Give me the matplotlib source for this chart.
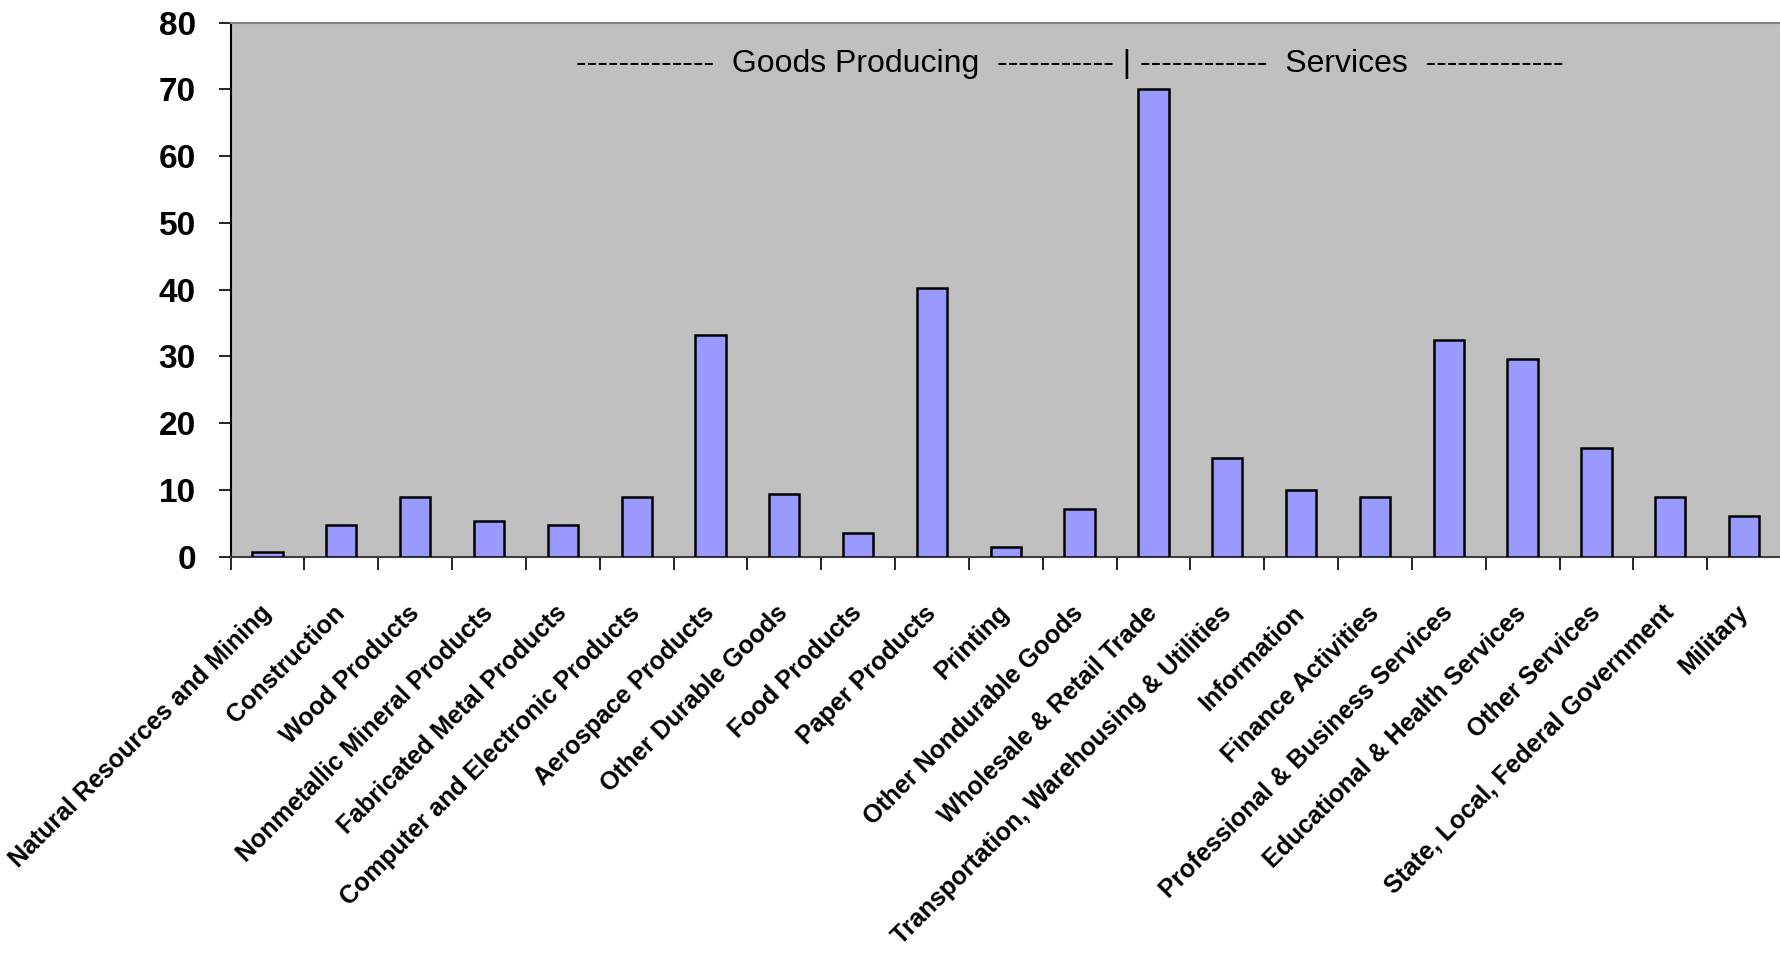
import matplotlib
matplotlib.use("Agg")
import matplotlib.pyplot as plt
import numpy as np

categories = [
    "Natural Resources and Mining", "Construction", "Wood Products",
    "Nonmetallic Mineral Products", "Fabricated Metal Products",
    "Computer and Electronic Products", "Aerospace Products",
    "Other Durable Goods", "Food Products", "Paper Products", "Printing",
    "Other Nondurable Goods", "Wholesale & Retail Trade",
    "Transportation, Warehousing & Utilities", "Information",
    "Finance Activities", "Professional & Business Services",
    "Educational & Health Services", "Other Services",
    "State, Local, Federal Government", "Military",
]
values = [0.7, 4.8, 9.0, 5.4, 4.8, 9.0, 33.2, 9.4, 3.6, 40.2, 1.4,
          7.1, 70.1, 14.8, 10.0, 9.0, 32.5, 29.6, 16.2, 9.0, 6.1]
yticks = [0, 10, 20, 30, 40, 50, 60, 70, 80]

arial = ["Liberation Sans", "DejaVu Sans"]

W, H = 1781, 964
fig = plt.figure(figsize=(W / 100, H / 100), dpi=100)
left, top, bottom = 230.6, 22.7, 556.6
ax = fig.add_axes([left / W, 1 - bottom / H, (W - left) / W, (bottom - top) / H])
ax.set_facecolor("#C0C0C0")

x = np.arange(len(categories))
ax.bar(x, values, width=0.41, color="#9999FF", edgecolor="black", linewidth=1.8, zorder=3)

ax.set_xlim(-0.5, len(categories) - 0.5)
ax.set_ylim(0, 80)
ax.set_yticks(yticks)
ax.set_yticklabels([str(v) for v in yticks], family=arial, fontweight="bold", fontsize=24)
ax.tick_params(axis="y", direction="out", length=9, width=1.2, pad=16)

# ticks at category boundaries, labels at centers
ax.set_xticks(np.arange(len(categories) + 1) - 0.5)
ax.set_xticklabels([])
ax.set_xticks(x, minor=True)
ax.set_xticklabels(categories, minor=True, rotation=45, ha="right", va="center",
                   rotation_mode="anchor", family=arial, fontweight="bold", fontsize=18)
ax.tick_params(axis="x", which="major", direction="out", length=9, width=1.2)
ax.tick_params(axis="x", which="minor", length=0, pad=38)

for s in ["top", "right"]:
    ax.spines[s].set_color("#808080")
    ax.spines[s].set_linewidth(1.5)
ax.spines["left"].set_color("black")
ax.spines["left"].set_linewidth(1.5)
ax.spines["bottom"].set_color("#404040")
ax.spines["bottom"].set_linewidth(1.5)

ax.text(0.541, 0.922,
        "-------------  Goods Producing  ----------- | ------------  Services  -------------",
        transform=ax.transAxes, ha="center", va="center", family=arial, fontsize=23)

fig.savefig("out.png", dpi=100, facecolor="white")
